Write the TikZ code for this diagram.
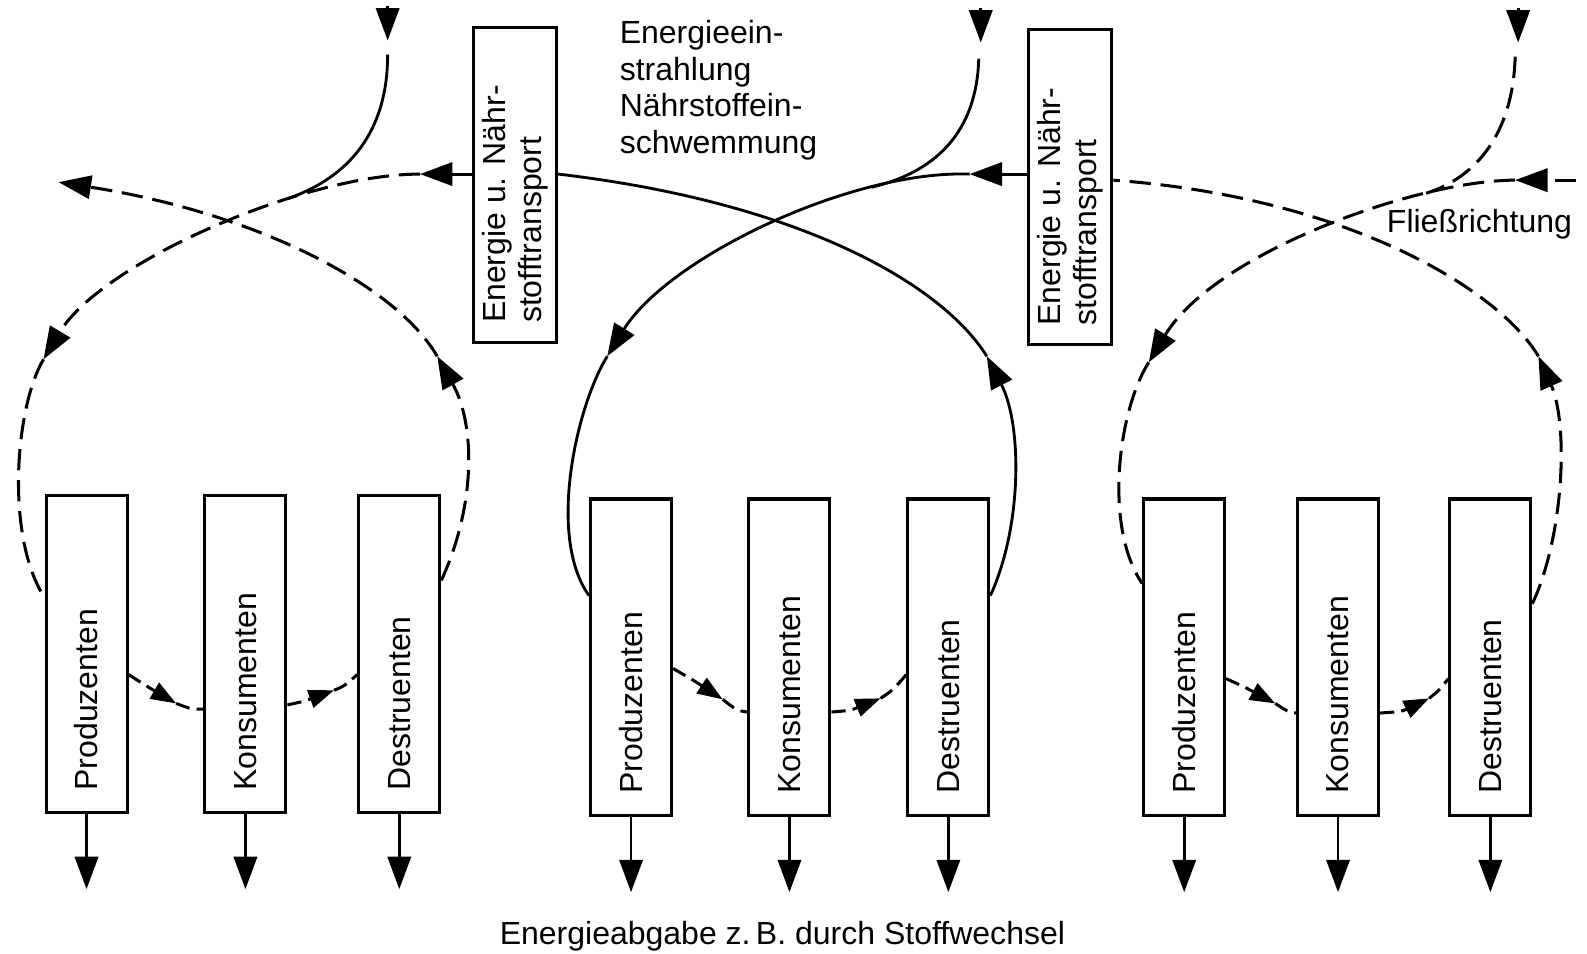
\documentclass[tikz,border=0pt]{standalone}
\usepackage{fontspec}
\setmainfont{Liberation Sans}
\usetikzlibrary{arrows.meta}
\newcommand\dfont{\fontsize{18}{20.5}\selectfont}
\begin{document}
\begin{tikzpicture}[x=0.02cm,y=-0.02cm,
  box/.style={draw, line width=1.7pt, minimum width=1.6cm, minimum height=6.26cm, inner sep=0pt},
  ebox/.style={draw, line width=1.7pt, minimum width=1.64cm, minimum height=6.22cm, inner sep=0pt},
  lab/.style={rotate=90, anchor=west, inner sep=0pt, font=\dfont},
  txt/.style={inner sep=0pt, font=\dfont},
  ln/.style={line width=1.6pt},
  dsh/.style={line width=1.7pt, dash pattern=on 12pt off 5.5pt},
  sdsh/.style={line width=1.7pt, dash pattern=on 8pt off 4pt},
  tip/.style={-{Triangle[length=0.64cm,width=0.46cm]}},
  stip/.style={-{Triangle[length=0.5cm,width=0.36cm]}},
]
\useasboundingbox (0,0) rectangle (1568,942);

% ---- boxes ----
\node[box] (P1) at (85.5,646.5) {};
\node[box] (K1) at (242.5,646.5) {};
\node[box] (D1) at (394.5,646.5) {};
\node[box] (P2) at (623.5,649.5) {};
\node[box] (K2) at (780,649.5) {};
\node[box] (D2) at (937,649.5) {};
\node[box] (P3) at (1170,649.5) {};
\node[box] (K3) at (1322,649.5) {};
\node[box] (D3) at (1472.5,649.5) {};
\node[ebox] (E1) at (509,182.5) {};
\node[ebox] (E2) at (1057.5,185) {};

\foreach \b/\t in {P1/Produzenten,K1/Konsumenten,D1/Destruenten,
                   P2/Produzenten,K2/Konsumenten,D2/Destruenten,
                   P3/Produzenten,K3/Konsumenten,D3/Destruenten}{
  \node[lab] (t\b) at ([yshift=0.46cm]\b.south) {\t};
  \draw[ln,tip] (\b.south) -- ++(0,74);
}
\node[lab, align=left] (tE1) at ([yshift=0.4cm]E1.south) {Energie u. Nähr-\\stofftransport};
\node[lab, align=left] (tE2) at ([yshift=0.4cm]E2.south) {Energie u. Nähr-\\stofftransport};

% ---- texts ----
\node[txt, anchor=north west, align=left] (tin) at (612,20) {Energieein-\\strahlung\\Nährstoffein-\\schwemmung};
\node[txt, anchor=west] (tfl) at (1370,222) {Fließrichtung};
\node[txt] (tout) at (773,925) {Energieabgabe z.\,B. durch Stoffwechsel};

% ---- coordinates ----
\coordinate (a1) at (415,172);
\coordinate (b1) at (43,355);
\coordinate (c1) at (432,352);
\coordinate (d1) at (58,180);
\coordinate (in1a) at (383,6);
\coordinate (in1b) at (383,40);
\coordinate (in1c) at (383,54);
\coordinate (j1) at (285,196);

\coordinate (a2) at (958,172);
\coordinate (b2) at (600,352);
\coordinate (c2) at (975,352);
\coordinate (in2a) at (969,8);
\coordinate (in2b) at (969,42);
\coordinate (in2c) at (967,58);
\coordinate (j2) at (861,185);

\coordinate (s3) at (1557,178);
\coordinate (a3) at (1497,178);
\coordinate (b3) at (1135,358);
\coordinate (c3) at (1520,352);
\coordinate (in3a) at (1500,8);
\coordinate (in3b) at (1500,42);
\coordinate (in3c) at (1497,56);
\coordinate (j3) at (1409,191);

% ---- loop 1 (dashed) ----
\draw[ln,tip] (E1.west |- a1) -- (a1);
\draw[dsh,tip] (a1) .. controls (300,172) and (100,260) .. (b1);
\draw[dsh] (b1) .. controls (15,402) and (5,530) .. ([yshift=-2.04cm]P1.north west);
\draw[dsh,tip] ([yshift=-1.7cm]D1.north east) .. controls (470,500) and (470,420) .. (c1);
\draw[dsh,tip] (c1) .. controls (390,280) and (250,210) .. (d1);
\draw[ln,tip] (in1a) -- (in1b);
\draw[ln] (in1c) .. controls (383,130) and (345,175) .. (j1);

% ---- loop 2 (solid) ----
\draw[ln,tip] (E2.west |- a2) -- (a2);
\draw[ln,tip] (a2) .. controls (840,168) and (660,255) .. (b2);
\draw[ln] (b2) .. controls (570,400) and (540,530) .. ([yshift=-1.94cm]P2.north west);
\draw[ln,tip] ([yshift=-1.94cm]D2.north east) .. controls (1010,520) and (1010,420) .. (c2);
\draw[ln] (c2) .. controls (930,280) and (790,200) .. (E1.east |- a1);
\draw[ln,tip] (in2a) -- (in2b);
\draw[ln] (in2c) .. controls (965,130) and (925,170) .. (j2);

% ---- loop 3 (dashed) ----
\draw[dsh,tip] (s3) -- (a3);
\draw[dsh,tip] (a3) .. controls (1400,178) and (1200,250) .. (b3);
\draw[dsh] (b3) .. controls (1105,405) and (1090,520) .. ([yshift=-1.7cm]P3.north west);
\draw[dsh,tip] ([yshift=-2.1cm]D3.north east) .. controls (1545,530) and (1550,420) .. (c3);
\draw[dsh] (c3) .. controls (1480,285) and (1330,195) .. (E2.east |- a3);
\draw[ln,tip] (in3a) -- (in3b);
\draw[dsh] (in3c) .. controls (1495,130) and (1460,175) .. (j3);

% ---- small arrows between boxes ----
\coordinate (m1a) at (174,695);
\coordinate (m1b) at (330,682);
\coordinate (m2a) at (714,691);
\coordinate (m2b) at (870,690);
\coordinate (m3a) at (1260,695);
\coordinate (m3b) at (1412,690);

\draw[sdsh,stip] ([yshift=-3.56cm]P1.north east) .. controls (145,678) .. (m1a);
\draw[sdsh] (m1a) .. controls (190,701) .. ([yshift=-4.24cm]K1.north west);
\draw[sdsh,stip] ([yshift=-4.16cm]K1.north east) .. controls (300,693) .. (m1b);
\draw[sdsh] (m1b) .. controls (340,678) .. ([yshift=-3.56cm]D1.north west);

\draw[sdsh,stip] ([yshift=-3.38cm]P2.north east) .. controls (685,672) .. (m2a);
\draw[sdsh] (m2a) .. controls (728,702) .. ([yshift=-4.24cm]K2.north west);
\draw[sdsh,stip] ([yshift=-4.24cm]K2.north east) .. controls (840,702) .. (m2b);
\draw[sdsh] (m2b) .. controls (882,682) .. ([yshift=-3.5cm]D2.north west);

\draw[sdsh,stip] ([yshift=-3.58cm]P3.north east) .. controls (1232,680) .. (m3a);
\draw[sdsh] (m3a) .. controls (1272,703) .. ([yshift=-4.26cm]K3.north west);
\draw[sdsh,stip] ([yshift=-4.26cm]K3.north east) .. controls (1385,703) .. (m3b);
\draw[sdsh] (m3b) .. controls (1422,682) .. ([yshift=-3.58cm]D3.north west);
\end{tikzpicture}
\end{document}
